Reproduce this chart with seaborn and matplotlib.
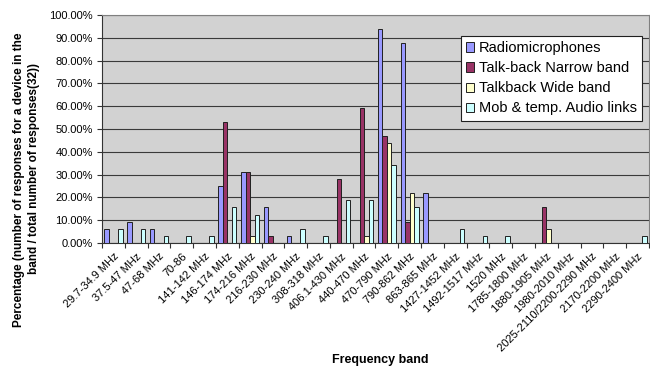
import matplotlib
matplotlib.use("Agg")
import matplotlib.pyplot as plt
import matplotlib.patches as mpatches
from matplotlib.ticker import FixedLocator, FuncFormatter
import pandas as pd
import seaborn as sns

# Frequency bands (categories on the x axis)
bands = [
    "29.7-34.9 MHz", "37.5-47 MHz", "47-68 MHz", "70-86", "141-142 MHz",
    "146-174 MHz", "174-216 MHz", "216-230 MHz", "230-240 MHz", "308-318 MHz",
    "406.1-430 MHz", "440-470 MHz", "470-790 MHz", "790-862 MHz", "863-865 MHz",
    "1427-1452 MHz", "1492-1517 MHz", "1520 MHz", "1785-1800 MHz", "1880-1905 MHz",
    "1980-2010 MHz", "2025-2110/2200-2290 MHz", "2170-2200 MHz", "2290-2400 MHz",
]

# Share of the 32 responses naming each band, in percent
radiomicrophones = [6.25, 9.375, 6.25, 0, 0, 25.0, 31.25, 15.625, 3.125, 0,
                    0, 0, 93.75, 87.5, 21.875, 0, 0, 0, 0, 0, 0, 0, 0, 0]
talkback_narrow = [0, 0, 0, 0, 0, 53.125, 31.25, 3.125, 0, 0,
                   28.125, 59.375, 46.875, 9.375, 0, 0, 0, 0, 0, 15.625, 0, 0, 0, 0]
talkback_wide = [0, 0, 0, 0, 0, 0, 3.125, 0, 0, 0,
                 0, 3.125, 43.75, 21.875, 0, 0, 0, 0, 0, 6.25, 0, 0, 0, 0]
audio_links = [6.25, 6.25, 3.125, 3.125, 3.125, 15.625, 12.5, 0, 6.25, 3.125,
               18.75, 18.75, 34.375, 15.625, 0, 6.25, 3.125, 3.125, 0, 0, 0, 0, 0, 3.125]

devices = ["Radiomicrophones", "Talk-back Narrow band", "Talkback Wide band",
           "Mob & temp. Audio links"]
colors = ["#9999FF", "#993366", "#FFFFCC", "#CCFFFF"]

series = [radiomicrophones, talkback_narrow, talkback_wide, audio_links]
rows = []
for dev, vals in zip(devices, series):
    for band, v in zip(bands, vals):
        rows.append({"band": band, "device": dev, "pct": v})
df = pd.DataFrame(rows)

plt.rcParams["font.family"] = ["Liberation Sans", "DejaVu Sans"]

fig = plt.figure(figsize=(6.5, 3.66), dpi=100)
ax = fig.add_axes([102 / 650, 1 - 243 / 366, 547 / 650, 228 / 366])
ax.set_facecolor("#d2d2d2")

sns.barplot(data=df, x="band", y="pct", hue="device", hue_order=devices,
            order=bands, palette=colors, saturation=1, width=0.8,
            edgecolor="#202020", linewidth=0.7, ax=ax, zorder=3, legend=False)

# hide outlines of empty bars
for p in ax.patches:
    if p.get_height() == 0:
        p.set_linewidth(0)

ax.set_xlim(-0.5, len(bands) - 0.5)
ax.set_ylim(0, 100)
ax.set_yticks(range(0, 101, 10))
ax.yaxis.set_major_formatter(FuncFormatter(lambda v, _: f"{v:.2f}%"))
ax.grid(axis="y", color="#3a3a3a", linewidth=0.8, zorder=1)
ax.grid(axis="x", visible=False)
ax.set_axisbelow(True)

ax.tick_params(axis="y", labelsize=8, length=3.5, width=0.8, color="#333333",
               pad=3)
ax.set_xticks(range(len(bands)))
ax.set_xticklabels(bands, rotation=45, ha="right", rotation_mode="anchor",
                   fontsize=8)
ax.tick_params(axis="x", which="major", length=0, pad=6)
ax.xaxis.set_minor_locator(FixedLocator([i - 0.5 for i in range(len(bands) + 1)]))
ax.tick_params(axis="x", which="minor", length=3.5, width=0.8, color="#333333")

for side in ["top", "right"]:
    ax.spines[side].set_color("#808080")
    ax.spines[side].set_linewidth(0.8)
for side in ["left", "bottom"]:
    ax.spines[side].set_color("#333333")
    ax.spines[side].set_linewidth(0.8)

ax.set_xlabel("")
ax.set_ylabel("")
fig.text(19 / 650, 1 - 180 / 366,
         "Percentage (number of responses for a device in the",
         rotation=90, ha="center", va="center", fontsize=8.5,
         fontweight="bold")
fig.text(34 / 650, 1 - 169 / 366,
         "band / total number of responses(32))",
         rotation=90, ha="center", va="center", fontsize=8.5,
         fontweight="bold")
fig.text(380 / 650, 1 - 360 / 366, "Frequency band", ha="center",
         va="center", fontsize=9, fontweight="bold")

handles = [mpatches.Patch(facecolor=c, edgecolor="#202020", linewidth=0.7)
           for c in colors]
leg = ax.legend(handles, devices, loc="upper right",
                bbox_to_anchor=(0.987, 0.908), borderaxespad=0,
                fancybox=False, framealpha=1, edgecolor="#202020",
                fontsize=10.5, handlelength=0.6, handleheight=0.6,
                handletextpad=0.3, labelspacing=0.42, borderpad=0.35)
leg.get_frame().set_linewidth(0.8)

fig.savefig("out.png", dpi=100)
